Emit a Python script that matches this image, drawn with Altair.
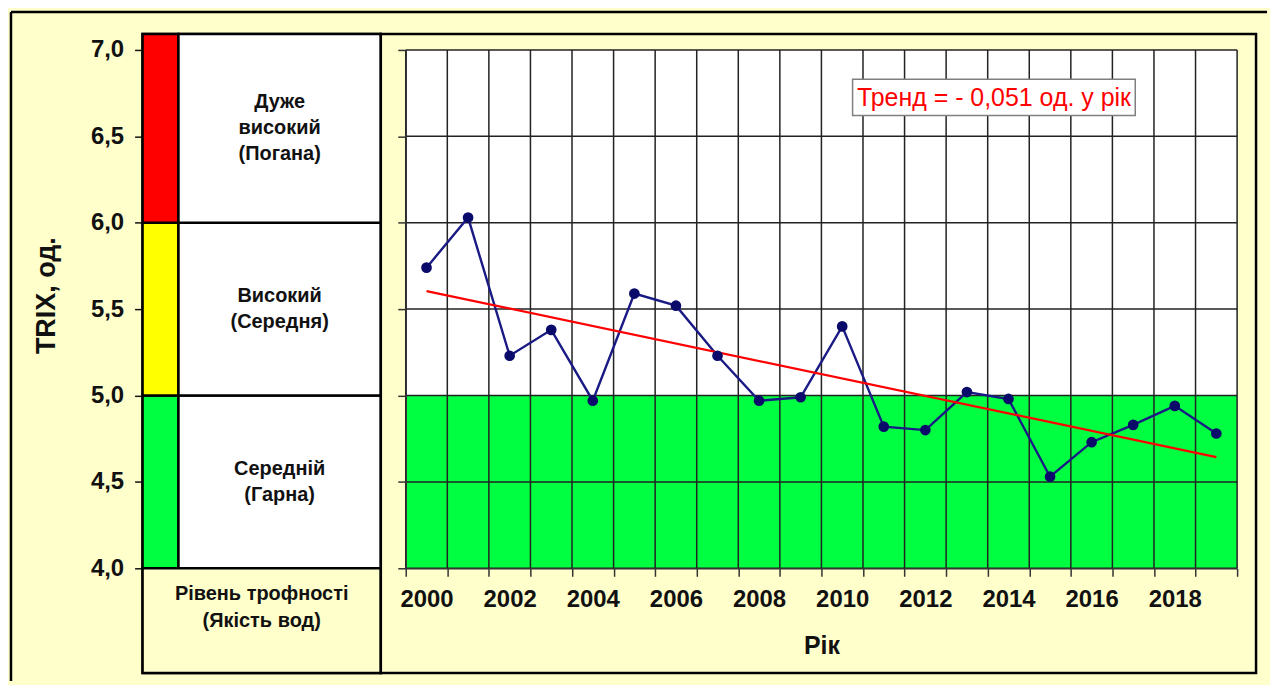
import altair as alt
import pandas as pd

# ---------------- data ----------------
years = list(range(2000, 2020))
trix = [5.74, 6.03, 5.23, 5.38, 4.97, 5.59, 5.52, 5.23, 4.97, 4.99,
        5.40, 4.82, 4.80, 5.02, 4.98, 4.53, 4.73, 4.83, 4.94, 4.78]

level_lo = [4.0, 5.0, 6.0]
level_hi = [5.0, 6.0, 7.0]
level_names = ["Середній\n(Гарна)", "Високий\n(Середня)", "Дуже\nвисокий\n(Погана)"]
level_colors = ["#00FF40", "#FFFF00", "#FF0000"]
zone_fill = ["#00FF40", "#FFFFFF", "#FFFFFF"]

footer_text = "Рівень трофності\n(Якість вод)"
y_title = "TRIX, од."
x_title = "Рік"
trend_text = "Тренд = - 0,051 од. у рік"
y_ticks = [4.0, 4.5, 5.0, 5.5, 6.0, 6.5, 7.0]

# annotation placement (data units)
ann_x, ann_y = 2013.65, 6.72
ann_box_x = [2010.25, 2017.05]
ann_box_y = [6.62, 6.83]

# ---------------- layout ----------------
FONT = "Liberation Sans"
LEFT_W = 239
RIGHT_W = 878
BOX_H = 641
PLOT_TOP = 16
PLOT_BOTTOM = 536
PLOT_LEFT = 25
PLOT_RIGHT = 859
STRIP_W = 36
BORDER = 2.5
BG = "#FFFFCC"
GRID = "#222222"
CELL_LH = 26

px_per_unit = (PLOT_BOTTOM - PLOT_TOP) / (max(y_ticks) - min(y_ticks))
px_per_year = (PLOT_RIGHT - PLOT_LEFT) / len(years)
y_top_edge = max(y_ticks) + PLOT_TOP / px_per_unit
y_bottom_edge = min(y_ticks) - (BOX_H - PLOT_BOTTOM) / px_per_unit

ys = alt.Scale(domain=[min(y_ticks), max(y_ticks)], range=[PLOT_BOTTOM, PLOT_TOP], nice=False, zero=False)
x_lo = years[0] - 0.5
x_hi = years[-1] + 0.5
xs = alt.Scale(domain=[x_lo, x_hi], range=[PLOT_LEFT, PLOT_RIGHT], nice=False, zero=False)
boundaries = [y - 0.5 for y in years] + [x_hi]

# ---------------- left panel (trophic levels) ----------------
levels = pd.DataFrame({"lo": level_lo, "hi": level_hi, "name": level_names,
                       "color": level_colors})
levels["hi_edge"] = [h if h < max(level_hi) else y_top_edge for h in levels["hi"]]
levels["mid"] = (levels["lo"] + levels["hi_edge"]) / 2
# anchor of the first text line so that the whole block is centred in its cell
levels["text_y"] = [m + (n.count("\n")) * CELL_LH / 2 / px_per_unit
                    for m, n in zip(levels["mid"], levels["name"])]

left_axis = alt.Axis(
    values=y_ticks, grid=False, domain=False, tickSize=8, tickColor="#111", tickWidth=1.5,
    labelExpr="replace(format(datum.value, '.1f'), '.', ',')",
    labelFont=FONT, labelFontSize=24, labelFontWeight="bold", labelColor="#111", labelPadding=11,
    title=y_title, titleFont=FONT, titleFontSize=27, titleFontWeight="bold", titleColor="#111",
    titleAngle=270, titleX=-96, titleY=262, titleAlign="center", titleBaseline="middle",
)

strip = alt.Chart(levels).mark_rect(stroke="black", strokeWidth=BORDER).encode(
    x=alt.value(0), x2=alt.value(STRIP_W),
    y=alt.Y("lo:Q", scale=ys, axis=left_axis), y2="hi_edge:Q",
    fill=alt.Fill("color:N", scale=None),
)
cells = alt.Chart(levels).mark_rect(fill="white", stroke="black", strokeWidth=BORDER).encode(
    x=alt.value(STRIP_W), x2=alt.value(LEFT_W),
    y=alt.Y("lo:Q", scale=ys), y2="hi_edge:Q",
)
footer = alt.Chart(pd.DataFrame({"lo": [y_bottom_edge], "hi": [min(level_lo)], "t": [footer_text]}))
footer_rect = footer.mark_rect(fill=BG, stroke="black", strokeWidth=BORDER).encode(
    x=alt.value(0), x2=alt.value(LEFT_W),
    y=alt.Y("lo:Q", scale=ys), y2="hi:Q",
)
footer_label = footer.mark_text(font=FONT, fontSize=20, fontWeight="bold", color="#111",
                                lineBreak="\n", lineHeight=27, baseline="top", dy=16).encode(
    x=alt.value((LEFT_W) / 2), y=alt.Y("hi:Q", scale=ys), text="t:N",
)
cell_text = alt.Chart(levels).mark_text(font=FONT, fontSize=20, fontWeight="bold", color="#111",
                                        lineBreak="\n", lineHeight=CELL_LH).encode(
    x=alt.value((STRIP_W + LEFT_W) / 2), y=alt.Y("text_y:Q", scale=ys), text="name:N",
)
dummy = pd.DataFrame({"a": [0]})
frame_top = alt.Chart(dummy).mark_rule(color="black", strokeWidth=BORDER).encode(
    x=alt.value(-132), x2=alt.value(1128), y=alt.value(-22))
frame_left = alt.Chart(dummy).mark_rule(color="black", strokeWidth=BORDER).encode(
    x=alt.value(-132), y=alt.value(-22), y2=alt.value(649))

left = alt.layer(strip, cells, footer_rect, cell_text, footer_label, frame_top, frame_left).properties(
    width=LEFT_W, height=BOX_H,
    view=alt.ViewBackground(fill="white", stroke="black", strokeWidth=BORDER),
)

# ---------------- right panel (time series) ----------------
df = pd.DataFrame({"year": years, "trix": trix})
zones = pd.DataFrame({"lo": level_lo, "hi": level_hi, "fill": zone_fill})

x_axis = alt.Axis(
    values=boundaries, grid=False, offset=-(BOX_H - PLOT_BOTTOM), zindex=1,
    domainColor="#333", domainWidth=1.5, tickColor="#333", tickWidth=1.5, tickSize=8,
    labelExpr=f"((datum.value + 0.5) % 2 == 0 && datum.value < {years[-1]}) ? '' + (datum.value + 0.5) : ''",
    labelOffset=px_per_year / 2, labelFlush=False, labelOverlap=False,
    labelFont=FONT, labelFontSize=24, labelFontWeight="bold", labelColor="#111", labelPadding=11,
    title=x_title, titleFont=FONT, titleFontSize=25, titleFontWeight="bold", titleColor="#111",
    titlePadding=22,
)
y_axis = alt.Axis(
    values=y_ticks, grid=False, offset=-PLOT_LEFT, zindex=1, labels=False, title=None,
    domainColor="#333", domainWidth=1.5, tickColor="#333", tickWidth=1.5, tickSize=8,
)

zone_rect = alt.Chart(zones).mark_rect().encode(
    x=alt.X(datum=x_lo, type="quantitative", scale=xs, axis=x_axis),
    x2=alt.X2(datum=x_hi),
    y=alt.Y("lo:Q", scale=ys, axis=y_axis), y2="hi:Q",
    fill=alt.Fill("fill:N", scale=None),
)
vgrid = alt.Chart(pd.DataFrame({"b": boundaries})).mark_rule(color=GRID, strokeWidth=1.5).encode(
    x=alt.X("b:Q", scale=xs),
    y=alt.Y(datum=min(y_ticks), type="quantitative", scale=ys),
    y2=alt.Y2(datum=max(y_ticks)),
)
hgrid = alt.Chart(pd.DataFrame({"v": y_ticks})).mark_rule(color=GRID, strokeWidth=1.5).encode(
    y=alt.Y("v:Q", scale=ys),
    x=alt.X(datum=x_lo, type="quantitative", scale=xs),
    x2=alt.X2(datum=x_hi),
)
line = alt.Chart(df).mark_line(color="#1a1a85", strokeWidth=2.4).encode(
    x=alt.X("year:Q", scale=xs), y=alt.Y("trix:Q", scale=ys))
pts = alt.Chart(df).mark_circle(color="#0a0a6a", size=115, opacity=1).encode(
    x=alt.X("year:Q", scale=xs), y=alt.Y("trix:Q", scale=ys))
trend = alt.Chart(df).transform_regression("year", "trix").mark_line(
    color="#FF0000", strokeWidth=2.2).encode(
    x=alt.X("year:Q", scale=xs), y=alt.Y("trix:Q", scale=ys))

ann = pd.DataFrame({"x": [ann_x], "y": [ann_y], "x0": [ann_box_x[0]], "x1": [ann_box_x[1]],
                    "y0": [ann_box_y[0]], "y1": [ann_box_y[1]], "t": [trend_text]})
ann_box = alt.Chart(ann).mark_rect(fill="white", stroke="#7f7f7f", strokeWidth=1.5).encode(
    x=alt.X("x0:Q", scale=xs), x2="x1:Q", y=alt.Y("y0:Q", scale=ys), y2="y1:Q")
ann_txt = alt.Chart(ann).mark_text(font=FONT, fontSize=25, color="#FF0000").encode(
    x=alt.X("x:Q", scale=xs), y=alt.Y("y:Q", scale=ys), text="t:N")

right = alt.layer(zone_rect, vgrid, hgrid, line, trend, pts, ann_box, ann_txt).properties(
    width=RIGHT_W, height=BOX_H,
    view=alt.ViewBackground(fill=BG, stroke="black", strokeWidth=BORDER),
)

chart = alt.hconcat(left, right, spacing=0, bounds="flush").properties(
    padding=0, background=BG,
).configure_view(stroke="black", strokeWidth=BORDER)

chart.save("out.html", embed_options={"renderer": "svg", "actions": False})
